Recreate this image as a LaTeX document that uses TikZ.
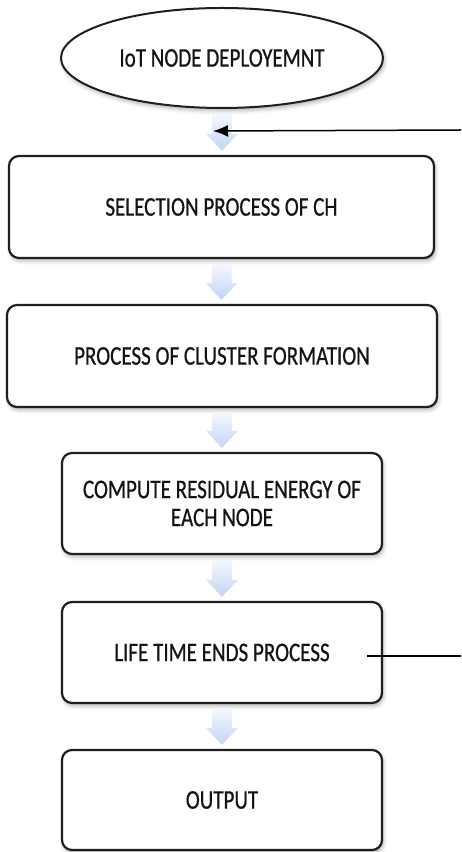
\documentclass[tikz,border=0pt]{standalone}
\usepackage{fontspec}
\setmainfont{Carlito}
\newfontfamily\flowfont[FakeStretch=0.78,FakeBold=0.6]{Carlito}
\usetikzlibrary{calc,shapes.geometric,shadows.blur,arrows.meta}

\definecolor{inkc}{HTML}{141414}
\definecolor{arrowtop}{HTML}{F4F7FE}
\definecolor{arrowbot}{HTML}{C2D5F4}

% wide light-blue block arrow from one node down to the next
\newcommand\flowlink[2]{%
  \path[flowarrow] let \p1=($(#1.south)+(0,-5)$), \p2=($(#2.north)+(0,4)$) in
    (\x1-10pt,\y1) -- (\x1+10pt,\y1) -- (\x1+10pt,\y2+17pt) -- (\x1+16pt,\y2+17pt)
    -- (\x1,\y2) -- (\x1-16pt,\y2+17pt) -- (\x1-10pt,\y2+17pt) -- cycle;}

\begin{document}
\begin{tikzpicture}[x=1pt,y=1pt,
  softshadow/.style={blur shadow={shadow xshift=1.5pt, shadow yshift=-3pt,
      shadow opacity=30, shadow blur radius=4pt}},
  flowtext/.style={text=inkc, align=center, inner sep=0pt,
      font=\flowfont\fontsize{27}{28}\selectfont},
  stepbox/.style={flowtext, draw=black!88, line width=2.2pt, rounded corners=10pt,
      fill=white, softshadow},
  startnode/.style={flowtext, ellipse, draw=black!88, line width=2pt, fill=white,
      softshadow, minimum width=322pt, minimum height=100pt},
  flowarrow/.style={top color=arrowtop, bottom color=arrowbot},
  feedline/.style={draw=black, line width=1.5pt}]

\useasboundingbox (0,0) rectangle (461,852);

\node[startnode] (ell) at (222,794) {IoT NODE DEPLOYEMNT};
\node[stepbox, minimum width=425pt, minimum height=102pt] (b1) at (221.5,645)
  {SELECTION PROCESS OF CH};
\node[stepbox, minimum width=430pt, minimum height=102pt] (b2) at (222,496)
  {PROCESS OF CLUSTER FORMATION};
\node[stepbox, minimum width=320pt, minimum height=101pt] (b3) at (222,348.5)
  {COMPUTE RESIDUAL ENERGY OF\\EACH NODE};
\node[stepbox, minimum width=320pt, minimum height=101pt] (b4) at (222,199.5)
  {LIFE TIME ENDS PROCESS};
\node[stepbox, minimum width=320pt, minimum height=100pt] (b5) at (222,52)
  {OUTPUT};

\flowlink{ell}{b1}
\flowlink{b1}{b2}
\flowlink{b2}{b3}
\flowlink{b3}{b4}
\flowlink{b4}{b5}

% feedback lines running off the right edge
\coordinate (feedin) at (461,722);
\coordinate (feedtip) at ($(ell.south)+(-9,-22)$);
\draw[feedline, -{Latex[length=15pt,width=12pt]}] (feedin) -- (feedtip);

\coordinate (lifetap) at ($(b4.east)+(-16,-3.5)$);
\coordinate (feedout) at (461,196);
\draw[feedline, line width=1.3pt] (lifetap) -- (feedout);

\end{tikzpicture}
\end{document}
